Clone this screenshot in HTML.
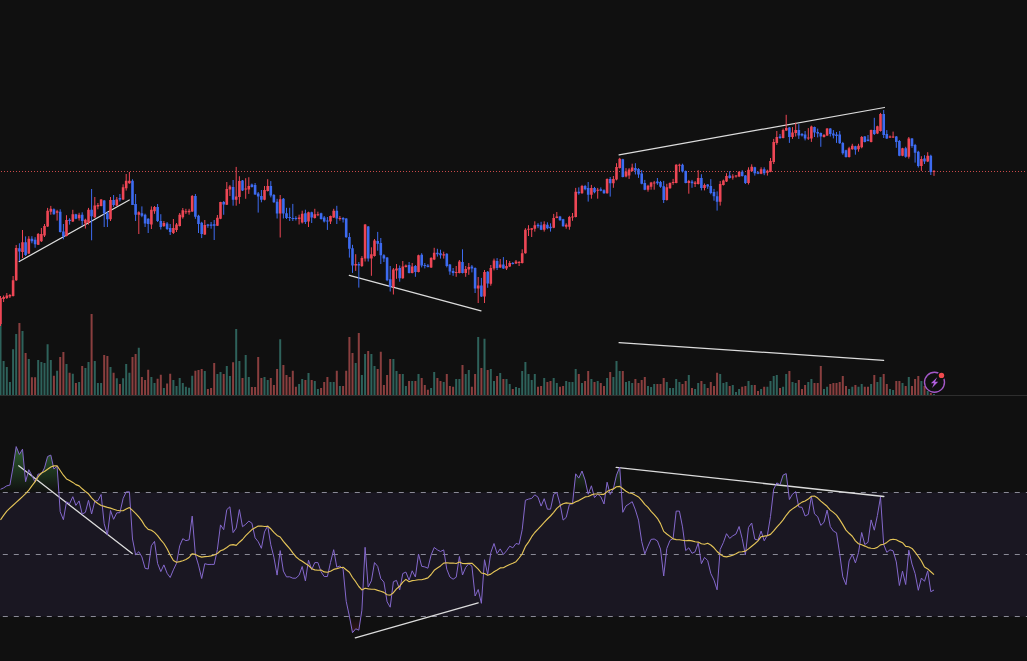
<!DOCTYPE html>
<html><head><meta charset="utf-8"><style>
html,body{margin:0;padding:0;background:#101010;}
body{width:1027px;height:661px;overflow:hidden;position:relative;font-family:"Liberation Sans",sans-serif;}
</style></head><body>
<svg width="1027" height="661" viewBox="0 0 1027 661" style="position:absolute;left:0;top:0"><line x1="0" y1="171.5" x2="1027" y2="171.5" stroke="#c94a4a" stroke-width="1" stroke-dasharray="1 2" stroke-dashoffset="-1"/><path d="M-0.5 324h2V395h-2zM2.6 361h2V395h-2zM5.8 366.9h2V395h-2zM8.9 382.1h2V395h-2zM12.1 349.2h2V395h-2zM15.2 333.9h2V395h-2zM21.5 331h2V395h-2zM27.8 359h2V395h-2zM37.2 360h2V395h-2zM40.4 362h2V395h-2zM43.5 363h2V395h-2zM46.6 344.3h2V395h-2zM49.8 360h2V395h-2zM56.1 370.8h2V395h-2zM65.5 364h2V395h-2zM71.8 373.8h2V395h-2zM78.1 382.1h2V395h-2zM84.4 367.9h2V395h-2zM87.5 362h2V395h-2zM93.8 361h2V395h-2zM96.9 383.1h2V395h-2zM100.1 383.1h2V395h-2zM109.5 366.9h2V395h-2zM115.8 378.2h2V395h-2zM122.1 378.2h2V395h-2zM125.2 363.9h2V395h-2zM128.4 372.8h2V395h-2zM137.8 347.7h2V395h-2zM150.4 377h2V395h-2zM153.5 383.1h2V395h-2zM162.9 388h2V395h-2zM172.4 380h2V395h-2zM175.5 385.9h2V395h-2zM178.7 378h2V395h-2zM181.8 383.1h2V395h-2zM184.9 386.8h2V395h-2zM188.1 387.8h2V395h-2zM191.2 375.7h2V395h-2zM203.8 371h2V395h-2zM216.4 374h2V395h-2zM219.5 372h2V395h-2zM225.8 366.1h2V395h-2zM228.9 375.9h2V395h-2zM235.2 328.9h2V395h-2zM238.4 360.9h2V395h-2zM244.7 355h2V395h-2zM247.8 377.1h2V395h-2zM263.5 377.1h2V395h-2zM266.7 380.1h2V395h-2zM279.2 339.3h2V395h-2zM298.1 383.9h2V395h-2zM301.2 379h2V395h-2zM307.5 373.1h2V395h-2zM313.8 380.9h2V395h-2zM316.9 389h2V395h-2zM329.5 381.9h2V395h-2zM332.7 381.9h2V395h-2zM338.9 385.9h2V395h-2zM354.7 362.9h2V395h-2zM360.9 375h2V395h-2zM364.1 354.1h2V395h-2zM370.4 354.1h2V395h-2zM373.5 365.9h2V395h-2zM392.4 359h2V395h-2zM395.5 371.1h2V395h-2zM401.8 374.1h2V395h-2zM404.9 386h2V395h-2zM411.2 380.9h2V395h-2zM417.5 374.1h2V395h-2zM430.1 388h2V395h-2zM433.2 372.1h2V395h-2zM442.7 381.9h2V395h-2zM455.2 379h2V395h-2zM458.4 379h2V395h-2zM464.7 374.1h2V395h-2zM467.8 370.1h2V395h-2zM477.2 336.9h2V395h-2zM483.5 338.8h2V395h-2zM489.8 369.1h2V395h-2zM493 380.9h2V395h-2zM499.2 373.1h2V395h-2zM505.5 379h2V395h-2zM508.7 383.9h2V395h-2zM515 387h2V395h-2zM518.1 388h2V395h-2zM521.2 371.1h2V395h-2zM524.4 362h2V395h-2zM527.5 374.1h2V395h-2zM530.7 380h2V395h-2zM533.8 374.1h2V395h-2zM543.2 378h2V395h-2zM552.7 378h2V395h-2zM555.8 382.9h2V395h-2zM565.2 380.9h2V395h-2zM568.4 381.9h2V395h-2zM571.5 381.9h2V395h-2zM574.7 369.1h2V395h-2zM581 382.9h2V395h-2zM590.4 379h2V395h-2zM596.7 380.9h2V395h-2zM606.1 378h2V395h-2zM612.4 377h2V395h-2zM615.5 361h2V395h-2zM618.7 371.1h2V395h-2zM625 381.9h2V395h-2zM628.1 380.9h2V395h-2zM631.2 382.9h2V395h-2zM647 386h2V395h-2zM650.1 387h2V395h-2zM653.2 383.9h2V395h-2zM665.8 381.9h2V395h-2zM669 388h2V395h-2zM672.1 388h2V395h-2zM675.2 379h2V395h-2zM678.4 381.9h2V395h-2zM687.8 375h2V395h-2zM694.1 389h2V395h-2zM697.2 382.9h2V395h-2zM703.5 383.9h2V395h-2zM719.2 374.1h2V395h-2zM722.4 382.9h2V395h-2zM725.5 381.9h2V395h-2zM731.8 385.1h2V395h-2zM735 392h2V395h-2zM738.1 389h2V395h-2zM747.5 380.9h2V395h-2zM750.7 384.9h2V395h-2zM760.1 389h2V395h-2zM766.4 386.8h2V395h-2zM769.5 380.9h2V395h-2zM772.7 376h2V395h-2zM775.8 375h2V395h-2zM782.1 386.8h2V395h-2zM785.2 374.1h2V395h-2zM791.5 381.9h2V395h-2zM794.7 382.9h2V395h-2zM807.3 381.9h2V395h-2zM810.4 379h2V395h-2zM823 389h2V395h-2zM826.1 386.8h2V395h-2zM848.1 389h2V395h-2zM851.3 386.8h2V395h-2zM857.5 386.8h2V395h-2zM860.7 383.9h2V395h-2zM870.1 383.9h2V395h-2zM876.4 381.9h2V395h-2zM879.5 377h2V395h-2zM889 389h2V395h-2zM892.1 390h2V395h-2zM901.5 382.9h2V395h-2zM907.8 377h2V395h-2zM920.4 380.9h2V395h-2zM926.7 391h2V395h-2zM933 394h2V395h-2z" fill="#2e625b"/><path d="M18.4 323h2V395h-2zM24.6 353.1h2V395h-2zM30.9 377.2h2V395h-2zM34.1 377.2h2V395h-2zM52.9 375.7h2V395h-2zM59.2 357h2V395h-2zM62.4 352.1h2V395h-2zM68.6 372.8h2V395h-2zM74.9 383.1h2V395h-2zM81.2 365.9h2V395h-2zM90.6 314h2V395h-2zM103.2 355.1h2V395h-2zM106.4 356.1h2V395h-2zM112.6 372.8h2V395h-2zM118.9 383.9h2V395h-2zM131.5 357h2V395h-2zM134.6 354.1h2V395h-2zM140.9 377h2V395h-2zM144.1 380h2V395h-2zM147.2 369.8h2V395h-2zM156.6 378.7h2V395h-2zM159.8 374.7h2V395h-2zM166.1 383.6h2V395h-2zM169.2 373.8h2V395h-2zM194.4 370.8h2V395h-2zM197.5 370h2V395h-2zM200.7 369.1h2V395h-2zM206.9 388.9h2V395h-2zM210.1 387.9h2V395h-2zM213.2 362.9h2V395h-2zM222.7 374h2V395h-2zM232.1 362.2h2V395h-2zM241.5 378.1h2V395h-2zM250.9 387h2V395h-2zM254.1 387h2V395h-2zM257.2 357h2V395h-2zM260.4 378.1h2V395h-2zM269.8 378.1h2V395h-2zM272.9 385h2V395h-2zM276.1 369.1h2V395h-2zM282.4 365.1h2V395h-2zM285.5 375.1h2V395h-2zM288.7 377.1h2V395h-2zM291.8 370.7h2V395h-2zM294.9 386.8h2V395h-2zM304.4 380h2V395h-2zM310.7 380h2V395h-2zM320.1 388h2V395h-2zM323.2 381.9h2V395h-2zM326.4 377h2V395h-2zM335.8 370.8h2V395h-2zM342.1 385.9h2V395h-2zM345.2 370.8h2V395h-2zM348.4 336.9h2V395h-2zM351.5 353.1h2V395h-2zM357.8 333h2V395h-2zM367.2 351.1h2V395h-2zM376.7 369.1h2V395h-2zM379.8 351.8h2V395h-2zM382.9 384.9h2V395h-2zM386.1 375h2V395h-2zM389.2 359h2V395h-2zM398.7 374.1h2V395h-2zM408.1 380.9h2V395h-2zM414.4 380.9h2V395h-2zM420.7 378h2V395h-2zM423.8 384.9h2V395h-2zM426.9 389.8h2V395h-2zM436.4 378h2V395h-2zM439.5 380.9h2V395h-2zM445.8 374.1h2V395h-2zM448.9 386h2V395h-2zM452.1 386.8h2V395h-2zM461.5 364.9h2V395h-2zM470.9 386.8h2V395h-2zM474.1 374.1h2V395h-2zM480.4 367.9h2V395h-2zM486.7 370.1h2V395h-2zM496.1 376h2V395h-2zM502.4 379h2V395h-2zM511.8 389h2V395h-2zM537 386.8h2V395h-2zM540.1 386h2V395h-2zM546.4 381.9h2V395h-2zM549.5 380.9h2V395h-2zM559 386.8h2V395h-2zM562.1 386h2V395h-2zM577.8 374.1h2V395h-2zM584.1 380.9h2V395h-2zM587.2 371.1h2V395h-2zM593.5 381.9h2V395h-2zM599.8 382.9h2V395h-2zM603 386h2V395h-2zM609.2 372.1h2V395h-2zM621.8 371.1h2V395h-2zM634.4 379h2V395h-2zM637.5 382.9h2V395h-2zM640.7 380h2V395h-2zM643.8 377h2V395h-2zM656.4 383.9h2V395h-2zM659.5 383.9h2V395h-2zM662.7 378h2V395h-2zM681.5 383.9h2V395h-2zM684.7 380.9h2V395h-2zM691 388h2V395h-2zM700.4 380.9h2V395h-2zM706.7 388h2V395h-2zM709.8 381.9h2V395h-2zM713 386h2V395h-2zM716.1 372.8h2V395h-2zM728.7 386h2V395h-2zM741.2 386.8h2V395h-2zM744.4 386h2V395h-2zM753.8 384.9h2V395h-2zM757 391h2V395h-2zM763.2 386.8h2V395h-2zM779 388h2V395h-2zM788.4 371.1h2V395h-2zM797.8 380h2V395h-2zM801 389h2V395h-2zM804.1 384.9h2V395h-2zM813.5 382.9h2V395h-2zM816.7 382.9h2V395h-2zM819.8 365.9h2V395h-2zM829.3 383.9h2V395h-2zM832.4 382.9h2V395h-2zM835.5 382.9h2V395h-2zM838.7 381.9h2V395h-2zM841.8 376h2V395h-2zM845 386h2V395h-2zM854.4 384.9h2V395h-2zM863.8 386.8h2V395h-2zM867 386.8h2V395h-2zM873.3 375h2V395h-2zM882.7 374.1h2V395h-2zM885.8 383.9h2V395h-2zM895.3 380.9h2V395h-2zM898.4 380.9h2V395h-2zM904.7 386h2V395h-2zM911 386h2V395h-2zM914.1 379h2V395h-2zM917.3 376h2V395h-2zM923.5 386h2V395h-2zM929.8 393h2V395h-2z" fill="#8a3f3f"/><line x1="19.2" y1="261.5" x2="129.3" y2="200" stroke="#dcdcdc" stroke-width="1.25" stroke-linecap="round"/><line x1="349.3" y1="275.3" x2="481" y2="310.8" stroke="#dcdcdc" stroke-width="1.25" stroke-linecap="round"/><line x1="619.1" y1="154.8" x2="884.5" y2="107.5" stroke="#dcdcdc" stroke-width="1.25" stroke-linecap="round"/><line x1="619.1" y1="342.6" x2="883.7" y2="360.3" stroke="#dcdcdc" stroke-width="1.25" stroke-linecap="round"/><path d="M0.5 296V326M3.6 295.5V302M6.8 293V299M9.9 294V298M13.1 276V296.5M16.2 245V281M22.5 230V258M28.8 236.2V254M38.2 233V245M41.4 228V242M44.5 224V237M47.6 207.9V227M50.8 205.9V214.7M57.1 209.8V220.6M66.5 215.2V236.4M72.8 209.8V222M79.1 212.8V220.6M85.4 218.7V228.5M88.5 207.9V224.6M94.8 197V218M97.9 203V209.3M101.1 199V206.4M110.5 197V221M116.8 197V206M123.1 184.3V200M126.2 174V190.6M129.4 172V183.8M138.8 211.3V234M151.4 206.4V229M154.5 206V213.8M163.9 221V227M173.4 219V234M176.5 223V232M179.7 213V226.5M182.8 208V218.7M185.9 208.8V214M189.1 208.8V214.7M192.2 195V212M204.8 220V235M217.4 215V226M220.5 201.8V219.2M226.8 182V205M229.9 185V196M236.2 166.9V205.7M239.4 176.2V203.8M245.7 178.2V198.8M248.8 177.2V193.9M264.5 186V200.3M267.7 179.2V191.5M280.2 195V237.5M299.1 214.7V224.5M302.2 210.7V223.5M308.5 211.7V227M314.8 208.8V218.6M317.9 211.7V216.2M330.5 215.6V224M333.7 208.8V218M339.9 216V220.6M355.7 254.2V270.9M361.9 256.1V267M365.1 224V261.5M371.4 247.3V275.8M374.5 239V256.6M393.4 268V294.5M396.5 264V278.8M402.8 261V278.8M405.9 264.5V267.5M412.2 263V273.4M418.5 254.7V272.4M431.1 257.1V268M434.2 247.8V260.1M443.7 251.7V258.6M456.2 266V276.8M459.4 260V273.4M465.7 266V276.8M468.8 263V274.8M478.2 277V303M484.5 270V303M490.8 265V285.7M494 258.6V270.4M500.2 259V268M506.5 260V270M509.7 261V267M516 260V264M519.1 261V266M522.2 249.3V263.5M525.4 228.2V253.7M528.5 225.2V236M531.7 228V237M534.8 221.3V231.6M544.2 221.3V231.6M553.7 213.9V228.2M556.8 212V218.3M566.2 223.3V228.7M569.4 215.9V229.7M572.5 213V220.8M575.7 187.9V217.4M582 184.9V193.8M591.4 184.9V198.7M597.7 187.9V198.7M607.1 178.4V193.7M613.4 176V187.8M616.5 163.2V180.4M619.7 157.8V168.6M626 168.1V177.4M629.1 168.1V178.9M632.2 163.7V171.5M648 184.8V191.7M651.1 181.9V189.7M654.2 180.9V189.7M666.8 183.8V200.6M670 182.4V188.8M673.1 178.9V184.8M676.2 164.2V183.3M679.4 163.7V172M688.8 179.9V193.7M695.1 181V187M698.2 170.2V184.5M704.5 183.5V190.4M720.2 181V205.6M723.4 179.6V185.5M726.5 173.2V182M732.8 174.2V179.6M736 175.1V177.6M739.1 171.2V177.1M748.5 167.3V184.5M751.7 164.3V171.7M761.1 167.3V174.2M767.4 169.7V175.6M770.5 158V172.2M773.7 138.9V164M776.8 131V144.8M783.1 128.6V138.4M786.2 114.8V131M792.5 127.1V138.9M795.7 122.7V136.5M808.3 128.1V139.9M811.4 125.6V141.9M824 134V137.5M827.1 128.1V136M849.1 146.8V157.6M852.3 143.8V149.7M858.5 143.8V151.7M861.7 136V148.3M871.1 129.6V142.4M877.4 125.7V134.1M880.5 112.9V131.6M890 135.5V138M893.1 131.6V138M902.5 147.8V156.2M908.8 137V158.6M921.4 156.2V170.9M927.7 152.2V162.1M934 170V175.9" stroke="#ee4655" stroke-width="1.0" fill="none"/><path d="M19.4 243.3V261M25.6 236.4V256M31.9 236.2V243.3M35.1 237.2V247.7M53.9 208.4V214.7M60.2 209.3V232.5M63.4 224V239.3M69.6 218.2V224.6M75.9 213.8V219.2M82.2 212.3V225.6M91.6 189V240.3M104.2 200V227M107.4 211.3V227M113.6 195V206.9M119.9 194V201.5M132.5 179.3V205M135.6 194V221M141.9 206.4V217.2M145.1 213.7V227M148.2 218.2V233M157.6 204V222M160.8 214.2V229.5M167.1 222V230M170.2 224V235M195.4 194V218.8M198.5 214.8V233M201.7 221.8V238.1M207.9 223.9V227.8M211.1 222V228.7M214.2 220V240M223.7 201V214.8M233.1 180V205.7M242.5 180V191M251.9 183.6V187.5M255.1 183V194.8M258.2 192V212.6M261.4 190V202.3M270.8 181.1V197.4M273.9 194V202.8M277.1 198.8V218.5M283.4 198V218.5M286.5 207.8V219M289.7 207.8V221M292.8 203.9V221M295.9 216.2V220.5M305.4 209.7V224M311.7 211.7V223M321.1 212.7V219.6M324.2 216V222.5M327.4 217V229.9M336.8 205.8V224M343.1 217.1V222.5M346.2 218.1V237.8M349.4 232.9V257.6M352.5 244.8V272.9M358.8 262V287.6M368.2 226V261.5M377.7 231.9V250.7M380.8 238V264M383.9 254.2V262M387.1 257.1V281.2M390.2 266V291.5M399.7 265.5V281.7M409.1 262V273.4M415.4 265V276.8M421.7 253.2V267.4M424.8 263V268.4M427.9 264V267.4M437.4 248.8V256.6M440.5 249.7V258.6M446.8 253.2V267.4M449.9 264V274.8M453.1 268V275.8M462.5 249.3V273.4M471.9 265V272.4M475.1 267.4V293M481.4 277.9V297M487.7 271V287.8M497.1 258.1V270M503.4 257.1V268.9M512.8 262V264.5M538 223.2V228.2M541.1 221.8V230.1M547.4 222.3V229.2M550.5 223.3V231.6M560 215.9V220.8M563.1 218.8V226.7M578.8 187.4V194.7M585.1 184.9V190.3M588.2 182V201.6M594.5 186.9V193.3M600.8 187.4V191.3M604 189.3V193.8M610.2 177V196.6M622.8 158.8V177.4M635.4 163.2V174.5M638.5 168.1V177.9M641.7 170V184.3M644.8 179.9V190.2M657.4 178V184.8M660.5 180.9V187.8M663.7 180.9V203M682.5 163.7V172.5M685.7 170.5V183.3M692 179.9V187.8M701.4 174.2V190.4M707.7 184V188.9M710.8 179.1V194.3M714 188.9V200.7M717.1 191.4V210.6M729.7 171.2V178.6M742.2 170.2V176.6M745.4 175.1V184M754.8 166.8V175.6M758 171.2V174.2M764.2 167.3V175.2M780 134V138.9M789.4 127.1V142.9M798.8 124.2V138.9M802 133V136.5M805.1 131V140.4M814.5 126.6V137M817.7 128.6V137.4M820.8 132.5V146.8M830.3 128.1V136.5M833.4 130.1V138.4M836.5 132V142.9M839.7 131V143.8M842.8 141.9V154.7M846 149.7V157.6M855.4 145.8V154.7M864.8 136V142.4M868 135V141.4M874.3 117.8V135M883.7 110V138M886.8 130.1V139M896.3 136V147.8M899.4 140V156.2M905.7 146.8V157.7M912 138V147.8M915.1 143.9V162.6M918.3 150.8V167.5M924.5 155.2V164M930.8 154.7V175" stroke="#3d6bf0" stroke-width="1.0" fill="none"/><path d="M-0.8 298h2.6v26h-2.6zM2.3 297h2.6v2h-2.6zM5.5 295.5h2.6v2.5h-2.6zM8.6 295h2.6v1.5h-2.6zM11.8 280.3h2.6v15.7h-2.6zM14.9 248h2.6v32.3h-2.6zM21.2 242.3h2.6v9.7h-2.6zM27.5 238.8h2.6v14.8h-2.6zM36.9 234h2.6v10.7h-2.6zM40.1 234h2.6v7.3h-2.6zM43.2 226h2.6v9.4h-2.6zM46.3 210.8h2.6v15.7h-2.6zM49.5 208.8h2.6v3h-2.6zM55.8 211.3h2.6v1.5h-2.6zM65.2 220h2.6v16h-2.6zM71.5 214.3h2.6v7.3h-2.6zM77.8 214.7h2.6v3.5h-2.6zM84.1 219.7h2.6v3.9h-2.6zM87.2 209.8h2.6v12.8h-2.6zM93.5 205.4h2.6v11.8h-2.6zM96.6 204.9h2.6v1.5h-2.6zM99.8 199.5h2.6v6.4h-2.6zM109.2 200h2.6v19.2h-2.6zM115.5 199.5h2.6v5.9h-2.6zM121.8 187.2h2.6v12.3h-2.6zM124.9 180.8h2.6v7.4h-2.6zM128.1 180.8h2.6v2.5h-2.6zM137.5 212.3h2.6v2.4h-2.6zM150.1 209.8h2.6v14.8h-2.6zM153.2 206.9h2.6v4.4h-2.6zM162.6 223.1h2.6v2.9h-2.6zM172.1 228h2.6v5h-2.6zM175.2 224.6h2.6v5.4h-2.6zM178.4 214.7h2.6v11.3h-2.6zM181.5 210.3h2.6v6.9h-2.6zM184.6 211.3h2.6v1h-2.6zM187.8 210.8h2.6v1.5h-2.6zM190.9 195.9h2.6v15.7h-2.6zM203.5 225.1h2.6v9.4h-2.6zM216.1 217.8h2.6v7.9h-2.6zM219.2 202.1h2.6v16.7h-2.6zM225.5 189h2.6v15.7h-2.6zM228.6 186.5h2.6v3h-2.6zM234.9 196.4h2.6v3.4h-2.6zM238.1 181.1h2.6v15.8h-2.6zM244.4 188.5h2.6v1h-2.6zM247.5 186h2.6v3.5h-2.6zM263.2 190h2.6v9.8h-2.6zM266.4 186h2.6v5h-2.6zM278.9 199.3h2.6v14.3h-2.6zM297.8 217.6h2.6v1.4h-2.6zM300.9 213.7h2.6v8.8h-2.6zM307.2 212.2h2.6v9.3h-2.6zM313.5 214.2h2.6v3.9h-2.6zM316.6 214.2h2.6v1h-2.6zM329.2 216.1h2.6v5.4h-2.6zM332.4 210.7h2.6v6.9h-2.6zM338.6 218.1h2.6v1h-2.6zM354.4 264h2.6v1.5h-2.6zM360.6 258.1h2.6v7.9h-2.6zM363.8 224.5h2.6v34.1h-2.6zM370.1 254.2h2.6v4.4h-2.6zM373.2 240.4h2.6v15.7h-2.6zM392.1 269.4h2.6v17.7h-2.6zM395.2 268.4h2.6v2h-2.6zM401.5 266.5h2.6v11.8h-2.6zM404.6 265.5h2.6v1.5h-2.6zM410.9 266.5h2.6v6.4h-2.6zM417.2 255.2h2.6v16.7h-2.6zM429.8 258.1h2.6v9.3h-2.6zM432.9 252.7h2.6v6.9h-2.6zM442.4 254.2h2.6v1.4h-2.6zM454.9 271.9h2.6v1h-2.6zM458.1 261.5h2.6v11.4h-2.6zM464.4 268.9h2.6v4h-2.6zM467.5 267h2.6v2.4h-2.6zM476.9 285.4h2.6v3.1h-2.6zM483.2 272h2.6v24.6h-2.6zM489.5 268h2.6v15.8h-2.6zM492.7 260.6h2.6v7.8h-2.6zM498.9 264.5h2.6v2.9h-2.6zM505.2 266h2.6v2.4h-2.6zM508.4 263h2.6v3.5h-2.6zM514.7 261.5h2.6v2h-2.6zM517.8 262h2.6v1h-2.6zM520.9 253.2h2.6v9.8h-2.6zM524.1 229.7h2.6v23.5h-2.6zM527.2 228.7h2.6v1h-2.6zM530.4 228.2h2.6v1.5h-2.6zM533.5 225.2h2.6v3.5h-2.6zM542.9 224.2h2.6v5.5h-2.6zM552.4 217.9h2.6v9.8h-2.6zM555.5 216.4h2.6v1.5h-2.6zM564.9 224.7h2.6v2h-2.6zM568.1 216.9h2.6v9.8h-2.6zM571.2 216.4h2.6v1h-2.6zM574.4 191.8h2.6v25.1h-2.6zM580.7 185.9h2.6v7.4h-2.6zM590.1 187.9h2.6v6.8h-2.6zM596.4 189.8h2.6v1h-2.6zM605.8 178.9h2.6v14.3h-2.6zM612.1 178.9h2.6v4.4h-2.6zM615.2 167.1h2.6v12.3h-2.6zM618.4 158.8h2.6v9.3h-2.6zM624.7 171.5h2.6v5h-2.6zM627.8 169.6h2.6v5.9h-2.6zM630.9 167.6h2.6v3.4h-2.6zM646.7 185.8h2.6v3.9h-2.6zM649.8 182.4h2.6v4.4h-2.6zM652.9 182.4h2.6v1h-2.6zM665.5 187.3h2.6v12.8h-2.6zM668.7 182.9h2.6v5.4h-2.6zM671.8 181.9h2.6v1h-2.6zM674.9 164.7h2.6v18.2h-2.6zM678.1 164.7h2.6v1h-2.6zM687.5 180.9h2.6v2h-2.6zM693.8 182.5h2.6v1.5h-2.6zM696.9 178.1h2.6v5.9h-2.6zM703.2 185h2.6v3h-2.6zM718.9 184h2.6v17.7h-2.6zM722.1 180.6h2.6v4.4h-2.6zM725.2 176.1h2.6v5.4h-2.6zM731.5 176.6h2.6v1h-2.6zM734.7 175.6h2.6v1h-2.6zM737.8 171.7h2.6v4.9h-2.6zM747.2 169.7h2.6v13.3h-2.6zM750.4 166.8h2.6v4.4h-2.6zM759.8 169.3h2.6v4.4h-2.6zM766.1 170.7h2.6v2h-2.6zM769.2 160.9h2.6v10.8h-2.6zM772.4 141.9h2.6v20.1h-2.6zM775.5 137h2.6v5.9h-2.6zM781.8 130.1h2.6v7.9h-2.6zM785 128.1h2.6v2.5h-2.6zM791.2 132.5h2.6v4.5h-2.6zM794.4 130.1h2.6v2.9h-2.6zM807 137.4h2.6v1h-2.6zM810.1 126.6h2.6v11.8h-2.6zM822.7 135h2.6v2h-2.6zM825.8 128.6h2.6v6.9h-2.6zM847.8 148.3h2.6v8.8h-2.6zM851 145.8h2.6v3.4h-2.6zM857.2 145.8h2.6v3.4h-2.6zM860.4 137h2.6v10.3h-2.6zM869.8 130.1h2.6v11.8h-2.6zM876.1 126.2h2.6v7.4h-2.6zM879.2 113.9h2.6v17.2h-2.6zM888.7 136.5h2.6v1h-2.6zM891.8 136.5h2.6v1h-2.6zM901.2 148.3h2.6v7.4h-2.6zM907.5 138.5h2.6v18.2h-2.6zM920.1 159.1h2.6v6.9h-2.6zM926.4 155.7h2.6v5.9h-2.6zM932.7 171.1h2.6v1h-2.6z" fill="#ee4655"/><path d="M18.1 248.2h2.6v3.4h-2.6zM24.3 242.3h2.6v12.7h-2.6zM30.6 238.8h2.6v2.5h-2.6zM33.8 239.8h2.6v4.4h-2.6zM52.6 209.3h2.6v5h-2.6zM58.9 211.8h2.6v20.2h-2.6zM62.1 231.5h2.6v4.9h-2.6zM68.3 219.7h2.6v1.4h-2.6zM74.6 214.3h2.6v4.4h-2.6zM80.9 214.7h2.6v6.4h-2.6zM90.3 209.8h2.6v6.4h-2.6zM102.9 200.5h2.6v12.8h-2.6zM106.1 213.3h2.6v5.9h-2.6zM112.3 200h2.6v4.9h-2.6zM118.6 198h2.6v1.5h-2.6zM131.2 180.8h2.6v24.1h-2.6zM134.3 204h2.6v10.7h-2.6zM140.6 213.3h2.6v2.4h-2.6zM143.8 214.7h2.6v8.9h-2.6zM146.9 218.7h2.6v5.4h-2.6zM156.3 206.9h2.6v14.2h-2.6zM159.5 221.1h2.6v5.9h-2.6zM165.8 223.6h2.6v5.4h-2.6zM168.9 228h2.6v4h-2.6zM194.1 195.9h2.6v20.9h-2.6zM197.2 215.7h2.6v8.2h-2.6zM200.4 222.7h2.6v11.2h-2.6zM206.6 224.5h2.6v1.2h-2.6zM209.8 224.5h2.6v1.2h-2.6zM212.9 224.3h2.6v1.4h-2.6zM222.4 202.1h2.6v2.4h-2.6zM231.8 187h2.6v12.8h-2.6zM241.2 180.6h2.6v9.9h-2.6zM250.6 184.6h2.6v2.4h-2.6zM253.8 185h2.6v9.4h-2.6zM256.9 193.4h2.6v3h-2.6zM260.1 195.9h2.6v3.9h-2.6zM269.5 186h2.6v9.4h-2.6zM272.6 194.9h2.6v7.4h-2.6zM275.8 201.8h2.6v11.8h-2.6zM282.1 198.8h2.6v14.8h-2.6zM285.2 213.2h2.6v4.9h-2.6zM288.4 217h2.6v1h-2.6zM291.5 218h2.6v1h-2.6zM294.6 218h2.6v1h-2.6zM304.1 213.2h2.6v8.8h-2.6zM310.4 212.2h2.6v5.4h-2.6zM319.8 213.2h2.6v5.8h-2.6zM322.9 217.6h2.6v3.9h-2.6zM326.1 220.6h2.6v1h-2.6zM335.5 210.7h2.6v7.9h-2.6zM341.8 218h2.6v1.6h-2.6zM344.9 218.6h2.6v18.7h-2.6zM348.1 237h2.6v11.8h-2.6zM351.2 248.3h2.6v17.2h-2.6zM357.5 264h2.6v1.5h-2.6zM366.9 226.5h2.6v32.1h-2.6zM376.4 240.9h2.6v2.9h-2.6zM379.5 242.9h2.6v12.3h-2.6zM382.6 255.2h2.6v3.4h-2.6zM385.8 257.6h2.6v22.6h-2.6zM388.9 279.2h2.6v7.9h-2.6zM398.4 268h2.6v10.3h-2.6zM407.8 265h2.6v7.9h-2.6zM414.1 266h2.6v5.9h-2.6zM420.4 254.7h2.6v10.8h-2.6zM423.5 265h2.6v1h-2.6zM426.6 265.5h2.6v1.5h-2.6zM436.1 252.7h2.6v1.5h-2.6zM439.2 253.2h2.6v2h-2.6zM445.5 253.7h2.6v12.3h-2.6zM448.6 264.5h2.6v6.9h-2.6zM451.8 270.9h2.6v2h-2.6zM461.2 262h2.6v10.9h-2.6zM470.6 266.5h2.6v1.9h-2.6zM473.8 268h2.6v20.5h-2.6zM480.1 285.4h2.6v11.2h-2.6zM486.4 271.8h2.6v11.8h-2.6zM495.8 261h2.6v7h-2.6zM502.1 264.5h2.6v3.9h-2.6zM511.5 263h2.6v1h-2.6zM536.7 224.7h2.6v1.5h-2.6zM539.8 225.2h2.6v4.5h-2.6zM546.1 224.7h2.6v3.5h-2.6zM549.2 226.7h2.6v1.5h-2.6zM558.7 216.4h2.6v3.9h-2.6zM561.8 219.3h2.6v6.9h-2.6zM577.5 191.8h2.6v1.5h-2.6zM583.8 185.9h2.6v3.4h-2.6zM586.9 187.9h2.6v6.8h-2.6zM593.2 187.9h2.6v4.4h-2.6zM599.5 189.3h2.6v1.5h-2.6zM602.7 190.3h2.6v3h-2.6zM608.9 178.9h2.6v4.4h-2.6zM621.5 159.3h2.6v17.7h-2.6zM634.1 168.1h2.6v2.5h-2.6zM637.2 169.1h2.6v5.4h-2.6zM640.4 173.5h2.6v10.3h-2.6zM643.5 182.9h2.6v6.8h-2.6zM656.1 181.4h2.6v1.9h-2.6zM659.2 181.9h2.6v4.9h-2.6zM662.4 186.3h2.6v13.8h-2.6zM681.2 164.7h2.6v6.8h-2.6zM684.4 171h2.6v11.9h-2.6zM690.7 181.4h2.6v1.9h-2.6zM700.1 178.1h2.6v9.9h-2.6zM706.4 184.5h2.6v2h-2.6zM709.5 186h2.6v6.9h-2.6zM712.7 191.9h2.6v4.4h-2.6zM715.8 196.3h2.6v5.4h-2.6zM728.4 175.6h2.6v2.5h-2.6zM740.9 171.7h2.6v4.4h-2.6zM744.1 175.6h2.6v7.4h-2.6zM753.5 167.3h2.6v5.9h-2.6zM756.7 172.2h2.6v1.5h-2.6zM762.9 169.3h2.6v3.9h-2.6zM778.7 136.5h2.6v1.5h-2.6zM788.1 127.6h2.6v9.4h-2.6zM797.5 130.1h2.6v5.4h-2.6zM800.7 134h2.6v1.5h-2.6zM803.8 134.5h2.6v3.9h-2.6zM813.2 127.1h2.6v5.4h-2.6zM816.4 132h2.6v1.5h-2.6zM819.5 133h2.6v3.5h-2.6zM829 128.6h2.6v5.4h-2.6zM832.1 133.5h2.6v2h-2.6zM835.2 134.5h2.6v1.5h-2.6zM838.4 134.5h2.6v8.8h-2.6zM841.5 142.9h2.6v10.3h-2.6zM844.7 150.2h2.6v6.9h-2.6zM854.1 146.3h2.6v3.4h-2.6zM863.5 136.5h2.6v5.4h-2.6zM866.7 139.5h2.6v1.5h-2.6zM873 130.1h2.6v4h-2.6zM882.4 113.9h2.6v21.1h-2.6zM885.5 134.1h2.6v4.4h-2.6zM895 136.5h2.6v5.4h-2.6zM898.1 140.9h2.6v14.8h-2.6zM904.4 148.3h2.6v8.4h-2.6zM910.7 138.5h2.6v7.4h-2.6zM913.8 144.9h2.6v7.8h-2.6zM917 151.8h2.6v14.2h-2.6zM923.2 158.6h2.6v3h-2.6zM929.5 155.7h2.6v16.3h-2.6z" fill="#3d6bf0"/><rect x="0" y="395" width="1027" height="1" fill="#2e2e2e"/><rect x="0" y="492.5" width="1027" height="124" fill="#1a1722"/><line x1="0" y1="492.5" x2="1027" y2="492.5" stroke="#8a8a96" stroke-width="1" stroke-dasharray="5 6" stroke-dashoffset="8.2"/><line x1="0" y1="554.5" x2="1027" y2="554.5" stroke="#8a8a96" stroke-width="1" stroke-dasharray="5 6" stroke-dashoffset="8.2"/><line x1="0" y1="616.5" x2="1027" y2="616.5" stroke="#8a8a96" stroke-width="1" stroke-dasharray="5 6" stroke-dashoffset="8.2"/><defs><linearGradient id="ob" x1="0" y1="399" x2="0" y2="492.5" gradientUnits="userSpaceOnUse"><stop offset="0" stop-color="#4caf50" stop-opacity="1"/><stop offset="1" stop-color="#4caf50" stop-opacity="0"/></linearGradient><linearGradient id="os" x1="0" y1="616.5" x2="0" y2="709" gradientUnits="userSpaceOnUse"><stop offset="0" stop-color="#f23645" stop-opacity="0"/><stop offset="1" stop-color="#f23645" stop-opacity="1"/></linearGradient><clipPath id="cob"><rect x="0" y="0" width="1027" height="492.5"/></clipPath><clipPath id="cos"><rect x="0" y="616.5" width="1027" height="100"/></clipPath></defs><polygon points="0.5,492.5 0.5,489.3 3.6,487.9 6.8,485.8 9.9,485.1 13.1,466.8 16.2,446.6 19.4,454.5 22.5,449.2 25.6,481.7 28.8,469.7 31.9,475.4 35.1,482.1 38.2,474 41.4,474 44.5,467.9 47.6,456.5 50.8,455.1 53.9,469 57.1,466.2 60.2,511.7 63.4,519.7 66.5,501.8 69.6,503.7 72.8,496.7 75.9,505.4 79.1,500.9 82.2,514.1 85.4,512.3 88.5,500.3 91.6,514 94.8,501.2 97.9,500.6 101.1,494.5 104.2,523.8 107.4,534.8 110.5,510.5 113.6,519.3 116.8,512.8 119.9,512.7 123.1,498.5 126.2,491.9 129.4,491.8 132.5,539 135.6,554.7 138.8,551.7 141.9,556.9 145.1,568.3 148.2,569 151.4,545.7 154.5,541.4 157.6,563.5 160.8,571.6 163.9,564.9 167.1,573.3 170.2,577.5 173.4,569.8 176.5,563.3 179.7,545.8 182.8,538.7 185.9,540.7 189.1,539.8 192.2,516.1 195.4,554.7 198.5,565.1 201.7,578.5 204.8,563.7 207.9,564.5 211.1,564.4 214.2,564.4 217.4,549.4 220.5,524.9 223.7,529.7 226.8,509.6 229.9,506.8 233.1,532.6 236.2,528.1 239.4,509.6 242.5,526.7 245.7,524.3 248.8,521.1 251.9,523.2 255.1,537.8 258.2,541.7 261.4,548.3 264.5,531.9 267.7,525.8 270.8,544.8 273.9,557.2 277.1,575.1 280.2,550.6 283.4,571.1 286.5,576.9 289.7,576.8 292.8,578.2 295.9,578.2 299.1,575.2 302.2,566.5 305.4,580.9 308.5,560.2 311.7,569.6 314.8,562.6 317.9,562.6 321.1,571.8 324.2,576.5 327.4,576.5 330.5,562.5 333.7,549.7 336.8,567.2 339.9,566 343.1,569.3 346.2,601.3 349.4,616.2 352.5,632.7 355.7,628.8 358.8,630.2 361.9,610.2 365.1,547.3 368.2,587 371.4,580.8 374.5,562.6 377.7,566.4 380.8,578.6 383.9,582.1 387.1,601.8 390.2,607.2 393.4,581.7 396.5,580.4 399.7,589.8 402.8,573.5 405.9,572.1 409.1,580.1 412.2,570.8 415.4,577 418.5,554 421.7,566.3 424.8,566.9 427.9,568.2 431.1,555.1 434.2,547.5 437.4,549.9 440.5,551.5 443.7,549.9 446.8,569.2 449.9,577 453.1,579.2 456.2,577.2 459.4,556.5 462.5,575 465.7,567.4 468.8,563.7 471.9,566.2 475.1,596 478.2,589.5 481.4,603.3 484.5,559.7 487.7,574.4 490.8,552.6 494,543.5 497.1,553.5 500.2,548.9 503.4,554.5 506.5,550.8 509.7,546.2 512.8,547.8 516,543.5 519.1,544.3 522.2,529.7 525.4,500.3 528.5,499.1 531.7,498.4 534.8,494.8 538,497.2 541.1,506.1 544.2,498.7 547.4,509.2 550.5,509.2 553.7,494.4 556.8,492.4 560,503.8 563.1,520.1 566.2,517.4 569.4,504.4 572.5,503.7 575.7,473.8 578.8,478.1 582,471 585.1,480 588.2,494.2 591.4,485.8 594.5,497.6 597.7,494.1 600.8,496.8 604,504 607.1,482.2 610.2,494.5 613.4,488.7 616.5,475.1 619.7,467.1 622.8,512.3 626,505.9 629.1,503.9 632.2,501.7 635.4,509.9 638.5,520.1 641.7,541.4 644.8,553.9 648,546.1 651.1,539.4 654.2,539 657.4,540.9 660.5,549.1 663.7,576 666.8,548.5 670,540.4 673.1,538.5 676.2,511.1 679.4,511.1 682.5,526.9 685.7,550.6 688.8,547.8 692,553.3 695.1,551.8 698.2,543 701.4,563.7 704.5,557.4 707.7,560.6 710.8,573.5 714,580.1 717.1,589.8 720.2,549.4 723.4,542.5 726.5,533.7 729.7,538.4 732.8,535.8 736,534 739.1,526.5 742.2,538.6 745.4,554.8 748.5,527.4 751.7,523 754.8,539.2 758,540.1 761.1,531.1 764.2,540.8 767.4,535.3 770.5,516.4 773.7,489.2 776.8,482.9 780,484.7 783.1,475.1 786.2,473.6 789.4,499.5 792.5,494.2 795.7,491.6 798.8,507 802,507.3 805.1,516 808.3,514.4 811.4,496.6 814.5,513.9 817.7,516.7 820.8,525.4 824,522.3 827.1,510.1 830.3,526.6 833.4,531.1 836.5,532.8 839.7,553.8 842.8,576.8 846,584.7 849.1,560.9 852.3,554.4 855.4,562.9 858.5,552.6 861.7,532.5 864.8,544.5 868,542.3 871.1,519.9 874.3,530.2 877.4,515.5 880.5,497 883.7,544.5 886.8,552.3 890,549.8 893.1,550.8 896.3,561.9 899.4,585.5 902.5,571.1 905.7,584.5 908.8,550.2 912,564.1 915.1,573.6 918.3,590.3 921.4,578 924.5,581.3 927.7,570.9 930.8,591.7 934,590 934,492.5" fill="url(#ob)" clip-path="url(#cob)"/><polygon points="0.5,616.5 0.5,489.3 3.6,487.9 6.8,485.8 9.9,485.1 13.1,466.8 16.2,446.6 19.4,454.5 22.5,449.2 25.6,481.7 28.8,469.7 31.9,475.4 35.1,482.1 38.2,474 41.4,474 44.5,467.9 47.6,456.5 50.8,455.1 53.9,469 57.1,466.2 60.2,511.7 63.4,519.7 66.5,501.8 69.6,503.7 72.8,496.7 75.9,505.4 79.1,500.9 82.2,514.1 85.4,512.3 88.5,500.3 91.6,514 94.8,501.2 97.9,500.6 101.1,494.5 104.2,523.8 107.4,534.8 110.5,510.5 113.6,519.3 116.8,512.8 119.9,512.7 123.1,498.5 126.2,491.9 129.4,491.8 132.5,539 135.6,554.7 138.8,551.7 141.9,556.9 145.1,568.3 148.2,569 151.4,545.7 154.5,541.4 157.6,563.5 160.8,571.6 163.9,564.9 167.1,573.3 170.2,577.5 173.4,569.8 176.5,563.3 179.7,545.8 182.8,538.7 185.9,540.7 189.1,539.8 192.2,516.1 195.4,554.7 198.5,565.1 201.7,578.5 204.8,563.7 207.9,564.5 211.1,564.4 214.2,564.4 217.4,549.4 220.5,524.9 223.7,529.7 226.8,509.6 229.9,506.8 233.1,532.6 236.2,528.1 239.4,509.6 242.5,526.7 245.7,524.3 248.8,521.1 251.9,523.2 255.1,537.8 258.2,541.7 261.4,548.3 264.5,531.9 267.7,525.8 270.8,544.8 273.9,557.2 277.1,575.1 280.2,550.6 283.4,571.1 286.5,576.9 289.7,576.8 292.8,578.2 295.9,578.2 299.1,575.2 302.2,566.5 305.4,580.9 308.5,560.2 311.7,569.6 314.8,562.6 317.9,562.6 321.1,571.8 324.2,576.5 327.4,576.5 330.5,562.5 333.7,549.7 336.8,567.2 339.9,566 343.1,569.3 346.2,601.3 349.4,616.2 352.5,632.7 355.7,628.8 358.8,630.2 361.9,610.2 365.1,547.3 368.2,587 371.4,580.8 374.5,562.6 377.7,566.4 380.8,578.6 383.9,582.1 387.1,601.8 390.2,607.2 393.4,581.7 396.5,580.4 399.7,589.8 402.8,573.5 405.9,572.1 409.1,580.1 412.2,570.8 415.4,577 418.5,554 421.7,566.3 424.8,566.9 427.9,568.2 431.1,555.1 434.2,547.5 437.4,549.9 440.5,551.5 443.7,549.9 446.8,569.2 449.9,577 453.1,579.2 456.2,577.2 459.4,556.5 462.5,575 465.7,567.4 468.8,563.7 471.9,566.2 475.1,596 478.2,589.5 481.4,603.3 484.5,559.7 487.7,574.4 490.8,552.6 494,543.5 497.1,553.5 500.2,548.9 503.4,554.5 506.5,550.8 509.7,546.2 512.8,547.8 516,543.5 519.1,544.3 522.2,529.7 525.4,500.3 528.5,499.1 531.7,498.4 534.8,494.8 538,497.2 541.1,506.1 544.2,498.7 547.4,509.2 550.5,509.2 553.7,494.4 556.8,492.4 560,503.8 563.1,520.1 566.2,517.4 569.4,504.4 572.5,503.7 575.7,473.8 578.8,478.1 582,471 585.1,480 588.2,494.2 591.4,485.8 594.5,497.6 597.7,494.1 600.8,496.8 604,504 607.1,482.2 610.2,494.5 613.4,488.7 616.5,475.1 619.7,467.1 622.8,512.3 626,505.9 629.1,503.9 632.2,501.7 635.4,509.9 638.5,520.1 641.7,541.4 644.8,553.9 648,546.1 651.1,539.4 654.2,539 657.4,540.9 660.5,549.1 663.7,576 666.8,548.5 670,540.4 673.1,538.5 676.2,511.1 679.4,511.1 682.5,526.9 685.7,550.6 688.8,547.8 692,553.3 695.1,551.8 698.2,543 701.4,563.7 704.5,557.4 707.7,560.6 710.8,573.5 714,580.1 717.1,589.8 720.2,549.4 723.4,542.5 726.5,533.7 729.7,538.4 732.8,535.8 736,534 739.1,526.5 742.2,538.6 745.4,554.8 748.5,527.4 751.7,523 754.8,539.2 758,540.1 761.1,531.1 764.2,540.8 767.4,535.3 770.5,516.4 773.7,489.2 776.8,482.9 780,484.7 783.1,475.1 786.2,473.6 789.4,499.5 792.5,494.2 795.7,491.6 798.8,507 802,507.3 805.1,516 808.3,514.4 811.4,496.6 814.5,513.9 817.7,516.7 820.8,525.4 824,522.3 827.1,510.1 830.3,526.6 833.4,531.1 836.5,532.8 839.7,553.8 842.8,576.8 846,584.7 849.1,560.9 852.3,554.4 855.4,562.9 858.5,552.6 861.7,532.5 864.8,544.5 868,542.3 871.1,519.9 874.3,530.2 877.4,515.5 880.5,497 883.7,544.5 886.8,552.3 890,549.8 893.1,550.8 896.3,561.9 899.4,585.5 902.5,571.1 905.7,584.5 908.8,550.2 912,564.1 915.1,573.6 918.3,590.3 921.4,578 924.5,581.3 927.7,570.9 930.8,591.7 934,590 934,616.5" fill="url(#os)" clip-path="url(#cos)"/><line x1="18.7" y1="465.8" x2="132.2" y2="553.5" stroke="#dcdcdc" stroke-width="1.3" stroke-linecap="round"/><line x1="355.3" y1="637.9" x2="478.2" y2="602.8" stroke="#dcdcdc" stroke-width="1.3" stroke-linecap="round"/><line x1="616.2" y1="467.4" x2="883.9" y2="496.5" stroke="#dcdcdc" stroke-width="1.3" stroke-linecap="round"/><polyline points="0.5,489.3 3.6,487.9 6.8,485.8 9.9,485.1 13.1,466.8 16.2,446.6 19.4,454.5 22.5,449.2 25.6,481.7 28.8,469.7 31.9,475.4 35.1,482.1 38.2,474 41.4,474 44.5,467.9 47.6,456.5 50.8,455.1 53.9,469 57.1,466.2 60.2,511.7 63.4,519.7 66.5,501.8 69.6,503.7 72.8,496.7 75.9,505.4 79.1,500.9 82.2,514.1 85.4,512.3 88.5,500.3 91.6,514 94.8,501.2 97.9,500.6 101.1,494.5 104.2,523.8 107.4,534.8 110.5,510.5 113.6,519.3 116.8,512.8 119.9,512.7 123.1,498.5 126.2,491.9 129.4,491.8 132.5,539 135.6,554.7 138.8,551.7 141.9,556.9 145.1,568.3 148.2,569 151.4,545.7 154.5,541.4 157.6,563.5 160.8,571.6 163.9,564.9 167.1,573.3 170.2,577.5 173.4,569.8 176.5,563.3 179.7,545.8 182.8,538.7 185.9,540.7 189.1,539.8 192.2,516.1 195.4,554.7 198.5,565.1 201.7,578.5 204.8,563.7 207.9,564.5 211.1,564.4 214.2,564.4 217.4,549.4 220.5,524.9 223.7,529.7 226.8,509.6 229.9,506.8 233.1,532.6 236.2,528.1 239.4,509.6 242.5,526.7 245.7,524.3 248.8,521.1 251.9,523.2 255.1,537.8 258.2,541.7 261.4,548.3 264.5,531.9 267.7,525.8 270.8,544.8 273.9,557.2 277.1,575.1 280.2,550.6 283.4,571.1 286.5,576.9 289.7,576.8 292.8,578.2 295.9,578.2 299.1,575.2 302.2,566.5 305.4,580.9 308.5,560.2 311.7,569.6 314.8,562.6 317.9,562.6 321.1,571.8 324.2,576.5 327.4,576.5 330.5,562.5 333.7,549.7 336.8,567.2 339.9,566 343.1,569.3 346.2,601.3 349.4,616.2 352.5,632.7 355.7,628.8 358.8,630.2 361.9,610.2 365.1,547.3 368.2,587 371.4,580.8 374.5,562.6 377.7,566.4 380.8,578.6 383.9,582.1 387.1,601.8 390.2,607.2 393.4,581.7 396.5,580.4 399.7,589.8 402.8,573.5 405.9,572.1 409.1,580.1 412.2,570.8 415.4,577 418.5,554 421.7,566.3 424.8,566.9 427.9,568.2 431.1,555.1 434.2,547.5 437.4,549.9 440.5,551.5 443.7,549.9 446.8,569.2 449.9,577 453.1,579.2 456.2,577.2 459.4,556.5 462.5,575 465.7,567.4 468.8,563.7 471.9,566.2 475.1,596 478.2,589.5 481.4,603.3 484.5,559.7 487.7,574.4 490.8,552.6 494,543.5 497.1,553.5 500.2,548.9 503.4,554.5 506.5,550.8 509.7,546.2 512.8,547.8 516,543.5 519.1,544.3 522.2,529.7 525.4,500.3 528.5,499.1 531.7,498.4 534.8,494.8 538,497.2 541.1,506.1 544.2,498.7 547.4,509.2 550.5,509.2 553.7,494.4 556.8,492.4 560,503.8 563.1,520.1 566.2,517.4 569.4,504.4 572.5,503.7 575.7,473.8 578.8,478.1 582,471 585.1,480 588.2,494.2 591.4,485.8 594.5,497.6 597.7,494.1 600.8,496.8 604,504 607.1,482.2 610.2,494.5 613.4,488.7 616.5,475.1 619.7,467.1 622.8,512.3 626,505.9 629.1,503.9 632.2,501.7 635.4,509.9 638.5,520.1 641.7,541.4 644.8,553.9 648,546.1 651.1,539.4 654.2,539 657.4,540.9 660.5,549.1 663.7,576 666.8,548.5 670,540.4 673.1,538.5 676.2,511.1 679.4,511.1 682.5,526.9 685.7,550.6 688.8,547.8 692,553.3 695.1,551.8 698.2,543 701.4,563.7 704.5,557.4 707.7,560.6 710.8,573.5 714,580.1 717.1,589.8 720.2,549.4 723.4,542.5 726.5,533.7 729.7,538.4 732.8,535.8 736,534 739.1,526.5 742.2,538.6 745.4,554.8 748.5,527.4 751.7,523 754.8,539.2 758,540.1 761.1,531.1 764.2,540.8 767.4,535.3 770.5,516.4 773.7,489.2 776.8,482.9 780,484.7 783.1,475.1 786.2,473.6 789.4,499.5 792.5,494.2 795.7,491.6 798.8,507 802,507.3 805.1,516 808.3,514.4 811.4,496.6 814.5,513.9 817.7,516.7 820.8,525.4 824,522.3 827.1,510.1 830.3,526.6 833.4,531.1 836.5,532.8 839.7,553.8 842.8,576.8 846,584.7 849.1,560.9 852.3,554.4 855.4,562.9 858.5,552.6 861.7,532.5 864.8,544.5 868,542.3 871.1,519.9 874.3,530.2 877.4,515.5 880.5,497 883.7,544.5 886.8,552.3 890,549.8 893.1,550.8 896.3,561.9 899.4,585.5 902.5,571.1 905.7,584.5 908.8,550.2 912,564.1 915.1,573.6 918.3,590.3 921.4,578 924.5,581.3 927.7,570.9 930.8,591.7 934,590" fill="none" stroke="#8468cc" stroke-width="1.0" stroke-linejoin="round"/><polyline points="0.5,519.8 3.6,515.4 6.8,511.1 9.9,508.2 13.1,505.3 16.2,502.4 19.4,499.5 22.5,496.6 25.6,493.7 28.8,490.1 31.9,485.9 35.1,481.6 38.2,476.7 41.4,473 44.5,471.5 47.6,469.2 50.8,467 53.9,465.9 57.1,465.8 60.2,470.5 63.4,475.2 66.5,478.9 69.6,480.5 72.8,482.4 75.9,484.6 79.1,485.9 82.2,488.8 85.4,491.5 88.5,493.8 91.6,497.9 94.8,501.2 97.9,503.5 101.1,505.5 104.2,506.4 107.4,507.4 110.5,508.1 113.6,509.2 116.8,510.3 119.9,510.8 123.1,510.7 126.2,509.1 129.4,507.6 132.5,510.4 135.6,513.3 138.8,516.9 141.9,520.9 145.1,526.2 148.2,529.4 151.4,530.2 154.5,532.4 157.6,535.6 160.8,539.8 163.9,543.5 167.1,548.8 170.2,555 173.4,560.5 176.5,562.3 179.7,561.6 182.8,560.7 185.9,559.5 189.1,557.5 192.2,553.7 195.4,554.4 198.5,556.1 201.7,557.1 204.8,556.6 207.9,556.5 211.1,555.9 214.2,555 217.4,553.5 220.5,550.8 223.7,549.6 226.8,547.5 229.9,545.1 233.1,544.6 236.2,545.4 239.4,542.2 242.5,539.5 245.7,535.6 248.8,532.6 251.9,529.6 255.1,527.7 258.2,526.1 261.4,526 264.5,526.5 267.7,526.2 270.8,528.8 273.9,532.4 277.1,535.4 280.2,537 283.4,541.4 286.5,545 289.7,548.7 292.8,552.8 295.9,556.7 299.1,559.4 302.2,561.2 305.4,563.5 308.5,565.5 311.7,568.7 314.8,569.9 317.9,570.3 321.1,570.1 324.2,571.9 327.4,572.3 330.5,571.3 333.7,569.4 336.8,568.6 339.9,567.7 343.1,567.3 346.2,569.8 349.4,572.3 352.5,577.5 355.7,581.7 358.8,586.5 361.9,589.9 365.1,588.2 368.2,588.9 371.4,589.2 374.5,589.2 377.7,590.4 380.8,591.2 383.9,592.4 387.1,594.7 390.2,595.1 393.4,592.7 396.5,588.9 399.7,586.2 402.8,582.1 405.9,579.4 409.1,581.7 412.2,580.6 415.4,580.3 418.5,579.7 421.7,579.7 424.8,578.9 427.9,577.9 431.1,574.5 434.2,570.3 437.4,568 440.5,565.9 443.7,563.1 446.8,562.8 449.9,563.1 453.1,563 456.2,563.5 459.4,562 462.5,563.5 465.7,563.6 468.8,563.4 471.9,563.2 475.1,566.2 478.2,569.2 481.4,573 484.5,573.6 487.7,575.3 490.8,574.1 494,571.7 497.1,569.9 500.2,567.9 503.4,567.7 506.5,566 509.7,564.5 512.8,563.3 516,561.7 519.1,558 522.2,553.8 525.4,546.4 528.5,542.1 531.7,536.7 534.8,532.5 538,529.2 541.1,525.8 544.2,522.3 547.4,519 550.5,516 553.7,512.3 556.8,508.4 560,505.6 563.1,503.8 566.2,502.9 569.4,503.2 572.5,503.6 575.7,501.8 578.8,500.6 582,498.7 585.1,496.9 588.2,496.5 591.4,494.9 594.5,494 597.7,494 600.8,494.3 604,494.3 607.1,491.6 610.2,490 613.4,488.9 616.5,486.8 619.7,486.4 622.8,488.8 626,491.3 629.1,493 632.2,493.5 635.4,495.3 638.5,496.9 641.7,500.3 644.8,504.3 648,507.4 651.1,511.4 654.2,514.6 657.4,518.3 660.5,523.6 663.7,531.4 666.8,534 670,536.4 673.1,538.9 676.2,539.6 679.4,539.7 682.5,540.2 685.7,540.8 688.8,540.4 692,540.9 695.1,541.8 698.2,542.1 701.4,543.7 704.5,544.3 707.7,543.2 710.8,545 714,547.8 717.1,551.5 720.2,554.2 723.4,556.4 726.5,556.9 729.7,556.1 732.8,555.2 736,553.8 739.1,552 742.2,551.7 745.4,551.1 748.5,548.9 751.7,546.2 754.8,543.8 758,540.9 761.1,536.7 764.2,536.1 767.4,535.6 770.5,534.4 773.7,530.9 776.8,527.1 780,523.6 783.1,519.9 786.2,515.3 789.4,511.3 792.5,508.9 795.7,506.7 798.8,504.4 802,502.1 805.1,501 808.3,499.1 811.4,496.3 814.5,496.1 817.7,498.1 820.8,501.1 824,503.8 827.1,506.3 830.3,510.1 833.4,512.4 836.5,515.1 839.7,519.6 842.8,524.6 846,530.1 849.1,533.3 852.3,536.2 855.4,540.9 858.5,543.7 861.7,544.8 864.8,546.1 868,547.6 871.1,548.3 874.3,548.5 877.4,547.4 880.5,544.9 883.7,544.2 886.8,542.4 890,539.9 893.1,539.2 896.3,539.8 899.4,541.4 902.5,542.7 905.7,546.4 908.8,546.8 912,548.4 915.1,552.2 918.3,556.5 921.4,561 924.5,567 927.7,568.9 930.8,571.7 934,574.6" fill="none" stroke="#e4c458" stroke-width="1.15" stroke-linejoin="round"/><circle cx="934.5" cy="382.3" r="10" fill="#101010" stroke="#a458c8" stroke-width="1.4"/><circle cx="941.5" cy="375.4" r="4" fill="#101010"/><circle cx="941.5" cy="375.4" r="2.7" fill="#f04a4e"/><path d="M937.2 377.3L930.9 383.2H934L932 387.9L938.2 381.8H935Z" fill="#b25ede"/></svg>
</body></html>
